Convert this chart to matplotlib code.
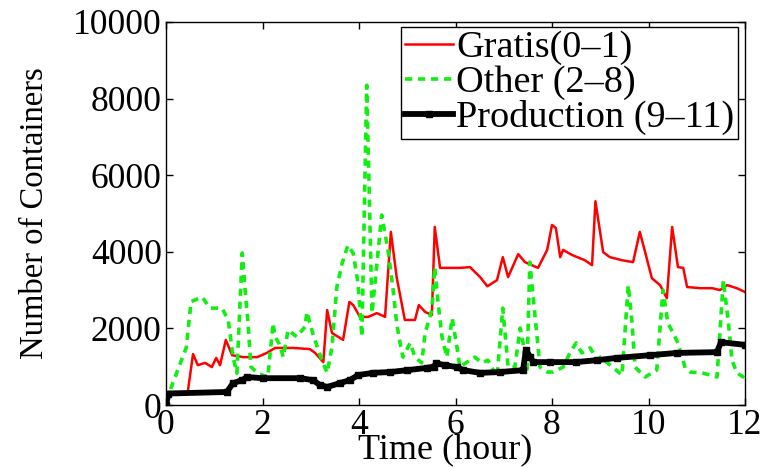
import matplotlib
matplotlib.use("Agg")
import matplotlib.pyplot as plt

# ---- data ----
gratis_t = [0.0, 0.45, 0.56, 0.66, 0.81, 0.95, 1.04, 1.12, 1.24, 1.37, 1.60, 1.89, 2.09, 2.26, 2.63,
            2.98, 3.09, 3.26, 3.34, 3.44, 3.67, 3.80, 3.88, 4.02, 4.19, 4.37, 4.54, 4.66, 4.78, 4.95,
            5.16, 5.24, 5.37, 5.51, 5.57, 5.68, 6.09, 6.30, 6.51, 6.66, 6.86, 6.98, 7.09, 7.30, 7.44,
            7.71, 7.90, 8.00, 8.08, 8.17, 8.23, 8.41, 8.68, 8.83, 8.90, 9.06, 9.20, 9.45, 9.68, 9.82,
            9.93, 10.07, 10.24, 10.38, 10.49, 10.61, 10.72, 10.80, 11.07, 11.32, 11.48, 11.63, 11.83, 12.0]
gratis_v = [300, 330, 1330, 1040, 1100, 990, 1230, 1040, 1700, 1300, 1250, 1250, 1360, 1490, 1490,
            1460, 1360, 1120, 2480, 1880, 1700, 2690, 2610, 2300, 2300, 2400, 2300, 4520, 3340, 2220,
            2220, 2610, 2430, 2350, 4650, 3580, 3580, 3600, 3340, 3100, 3260, 3860, 3340, 3940, 3730,
            3580, 4050, 4700, 4620, 3860, 4050, 3920, 3780, 3650, 5320, 3990, 3860, 3780, 3730, 4520,
            3990, 3310, 3130, 2790, 4650, 3600, 3580, 3080, 3050, 3050, 3000, 3130, 3050, 2950]

other_t = [0.0, 0.15, 0.42, 0.52, 0.75, 0.91, 1.16, 1.29, 1.39, 1.47, 1.58, 1.64, 1.70, 1.76, 1.89,
           2.11, 2.22, 2.26, 2.36, 2.43, 2.53, 2.71, 2.88, 2.92, 3.05, 3.23, 3.34, 3.44, 3.54, 3.65,
           3.77, 3.88, 3.98, 4.06, 4.16, 4.27, 4.47, 4.60, 4.70, 4.78, 4.85, 4.91, 5.06, 5.16, 5.30,
           5.37, 5.51, 5.57, 5.64, 5.72, 5.82, 5.93, 6.03, 6.09, 6.24, 6.40, 6.55, 6.67, 6.86, 6.98,
           7.09, 7.23, 7.34, 7.40, 7.48, 7.54, 7.61, 7.69, 7.75, 7.90, 8.02, 8.23, 8.37, 8.50, 8.62,
           8.79, 8.95, 9.00, 9.26, 9.45, 9.58, 9.66, 9.72, 9.93, 10.17, 10.30, 10.40, 10.51, 10.61,
           10.76, 10.86, 11.11, 11.42, 11.55, 11.65, 11.73, 11.83, 12.0]
other_v = [100, 600, 1500, 2700, 2820, 2530, 2530, 2220, 1250, 830, 3970, 3000, 2140, 1000, 830,
           730, 2140, 1780, 1570, 1250, 1960, 1780, 2040, 2430, 1830, 1170, 840, 1510, 3080, 3700,
           4170, 3960, 3180, 1780, 8350, 2400, 4960, 4050, 3080, 2140, 1620, 1250, 1620, 1250, 1100,
           1880, 2480, 3600, 2660, 1780, 1250, 2270, 1510, 990, 1120, 1250, 1100, 1170, 730, 2530,
           990, 990, 2010, 1620, 830, 3730, 2820, 1780, 990, 860, 860, 990, 1360, 1620, 1360,
           1490, 1170, 1250, 990, 780, 3130, 2140, 990, 730, 910, 3000, 2140, 1880, 1620,
           970, 860, 840, 730, 3260, 2220, 1170, 840, 700]

prod_t = [0.0, 0.05, 1.26, 1.39, 1.58, 1.68, 2.0, 2.78, 3.05, 3.19, 3.34, 3.60, 3.81, 3.98, 4.29,
          4.64, 5.0, 5.41, 5.55, 5.60, 5.78, 6.03, 6.16, 6.51, 6.92, 7.40, 7.46, 7.55, 7.61, 7.96,
          8.5, 8.93, 9.35, 10.03, 10.59, 11.42, 11.50, 12.0]
prod_v = [0, 300, 340, 570, 650, 730, 700, 700, 650, 520, 470, 570, 650, 780, 840,
          860, 910, 970, 1000, 1090, 1040, 990, 910, 840, 860, 910, 1440, 1250, 1120, 1120,
          1120, 1170, 1230, 1300, 1360, 1380, 1640, 1570]

labels = ["Gratis(0\u20131)", "Other (2\u20138)", "Production (9\u201311)"]
xticks = [0, 2, 4, 6, 8, 10, 12]
yticks = [0, 2000, 4000, 6000, 8000, 10000]

plt.rcParams['font.family'] = ['Liberation Serif', 'DejaVu Serif']

fig = plt.figure(figsize=(7.64, 4.68), dpi=100)
ax = fig.add_axes([166/764, 1 - 405/468, (745-166)/764, (405-22)/468])

ax.plot(gratis_t, gratis_v, color='#ff0000', lw=1.8, label=labels[0])
ax.plot(other_t, other_v, color='#11ee11', lw=2.6, ls=(0, (2.0, 1.6)), label=labels[1])
ax.plot(prod_t, prod_v, color='black', lw=4.2, marker='s', ms=4.5, label=labels[2])

ax.set_xlim(0, 12)
ax.set_ylim(0, 10000)
ax.set_xticks(xticks)
ax.set_yticks(yticks)
ax.tick_params(direction='in', length=5, width=1, top=True, right=True,
               labelsize=25.5, pad=3)
for s in ax.spines.values():
    s.set_linewidth(1.0)

ax.set_xlabel("Time (hour)", fontsize=26)
ax.xaxis.set_label_coords(0.483, -0.074)
ax.set_ylabel("Number of Containers", fontsize=23.5)
ax.yaxis.set_label_coords(-0.2, 0.5)

leg = ax.legend(loc='upper right', bbox_to_anchor=(0.988, 0.988), fontsize=27.5,
                frameon=True, fancybox=False, edgecolor='black', framealpha=1,
                handlelength=1.25, handletextpad=0.08, borderpad=0.1,
                labelspacing=0.0, borderaxespad=0.0)
leg.get_frame().set_linewidth(1.0)

fig.savefig("out.png", dpi=100)
